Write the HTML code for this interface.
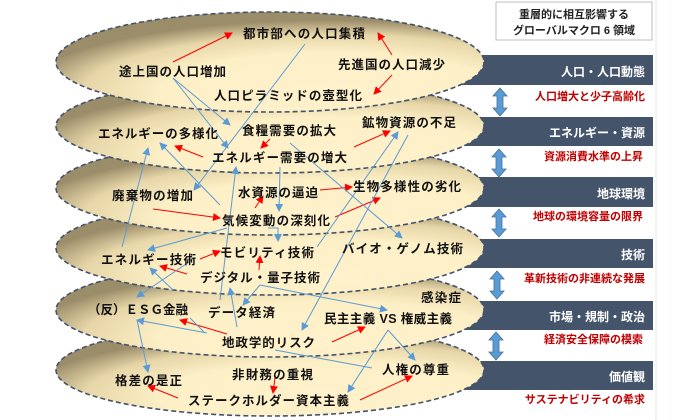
<!DOCTYPE html>
<html><head><meta charset="utf-8"><style>
html,body{margin:0;padding:0;background:#fff;width:700px;height:420px;overflow:hidden}
svg text{font-family:"Liberation Sans","Noto Sans CJK JP",sans-serif;font-weight:bold}
</style></head><body>
<svg width="700" height="420" viewBox="0 0 700 420" xmlns="http://www.w3.org/2000/svg">
<defs>
<radialGradient id="g" cx="0.64" cy="0.8" r="0.72">
<stop offset="0" stop-color="#fff2cc"/><stop offset="0.55" stop-color="#fdefc6"/><stop offset="0.8" stop-color="#e6d6a8"/><stop offset="1" stop-color="#9c8d6a"/>
</radialGradient>
<marker id="r" markerWidth="8" markerHeight="8" refX="7" refY="4" orient="auto" markerUnits="userSpaceOnUse"><path d="M0,0 L8,4 L0,8z" fill="#ff0000"/></marker>
<marker id="b" markerWidth="8" markerHeight="8" refX="7" refY="4" orient="auto" markerUnits="userSpaceOnUse"><path d="M0,0 L8,4 L0,8z" fill="#5b9bd5"/></marker>
</defs>
<line x1="656" y1="0" x2="656" y2="420" stroke="#e2efd9" stroke-width="1"/>
<rect x="496" y="2" width="156" height="38" fill="#fff" stroke="#bfbfbf"/>
<text x="574" y="18" font-size="11" text-anchor="middle" fill="#222">重層的に相互影響する</text>
<text x="574" y="34" font-size="11" text-anchor="middle" fill="#222">グローバルマクロ 6 領域</text>
<g fill="#44546a">
<rect x="460" y="55" width="193" height="30"/><rect x="460" y="117" width="193" height="29"/>
<rect x="460" y="177" width="193" height="30"/><rect x="460" y="239" width="193" height="29"/>
<rect x="460" y="301" width="193" height="29"/><rect x="460" y="361" width="193" height="29"/>
</g>
<g fill="#fff" font-size="12" text-anchor="end">
<text x="645" y="76">人口・人口動態</text><text x="645" y="137">エネルギー・資源</text>
<text x="645" y="198">地球環境</text><text x="645" y="259">技術</text>
<text x="645" y="321">市場・規制・政治</text><text x="645" y="381">価値観</text>
</g>
<g fill="#c00000" font-size="11" text-anchor="end">
<text x="645" y="100">人口増大と少子高齢化</text><text x="643" y="160">資源消費水準の上昇</text>
<text x="643" y="220">地球の環境容量の限界</text><text x="645" y="282">革新技術の非連続な発展</text>
<text x="643" y="343">経済安全保障の模索</text><text x="645" y="403">サステナビリティの希求</text>
</g>
<g fill="#5b9bd5" stroke="#41719c" stroke-width="0.8">
<path d="M500,88 l-7,8 h4 v12 h-4 l7,8 l7,-8 h-4 v-12 h4z"/>
<path d="M499,149 l-7,8 h4 v12 h-4 l7,8 l7,-8 h-4 v-12 h4z"/>
<path d="M499,209 l-7,8 h4 v12 h-4 l7,8 l7,-8 h-4 v-12 h4z"/>
<path d="M497,271 l-7,8 h4 v12 h-4 l7,8 l7,-8 h-4 v-12 h4z"/>
<path d="M496,332 l-7,8 h4 v12 h-4 l7,8 l7,-8 h-4 v-12 h4z"/>
</g>
<g fill="url(#g)" stroke="#44546a" stroke-width="1.6" stroke-dasharray="5,3">
<ellipse cx="270" cy="370" rx="214" ry="46"/>
<ellipse cx="270" cy="310" rx="214" ry="47"/>
<ellipse cx="270" cy="248" rx="214" ry="47"/>
<ellipse cx="270" cy="188" rx="214" ry="47"/>
<ellipse cx="270" cy="126" rx="214" ry="47"/>
<ellipse cx="270" cy="62" rx="214" ry="50"/>
</g>
<g stroke="#ff0000" stroke-width="1" marker-end="url(#r)">
<line x1="173" y1="62" x2="232" y2="33"/><line x1="392" y1="55" x2="378" y2="33"/>
<line x1="392" y1="75" x2="374" y2="94"/><line x1="270" y1="139" x2="261" y2="148"/>
<line x1="203" y1="157" x2="175" y2="146"/><line x1="354" y1="147" x2="390" y2="131"/>
<line x1="320" y1="190" x2="352" y2="187"/><line x1="153" y1="209" x2="220" y2="218"/>
<line x1="255" y1="208" x2="263" y2="196"/><line x1="335" y1="217" x2="380" y2="198"/>
<line x1="200" y1="259" x2="220" y2="251"/><line x1="187" y1="274" x2="160" y2="266"/>
<line x1="259" y1="270" x2="260" y2="256"/><line x1="227" y1="334" x2="180" y2="320"/>
<line x1="332" y1="342" x2="365" y2="327"/><line x1="275" y1="378" x2="273" y2="393"/>
<line x1="178" y1="398" x2="148" y2="386"/><line x1="360" y1="400" x2="412" y2="376"/>
</g>
<g stroke="#5b9bd5" stroke-width="1" fill="none">
<line x1="305" y1="44" x2="194" y2="190" marker-end="url(#b)"/>
<line x1="173" y1="78" x2="230" y2="125" marker-end="url(#b)"/>
<line x1="173" y1="78" x2="228" y2="148" marker-end="url(#b)"/>
<line x1="220" y1="205" x2="160" y2="143" marker-end="url(#b)"/>
<line x1="122" y1="247" x2="148" y2="148" marker-end="url(#b)"/>
<line x1="220" y1="300" x2="236" y2="167" marker-end="url(#b)"/>
<line x1="280" y1="167" x2="279" y2="211" marker-end="url(#b)"/>
<line x1="290" y1="143" x2="402" y2="238" marker-end="url(#b)"/>
<line x1="317" y1="247" x2="398" y2="132" marker-end="url(#b)"/>
<line x1="408" y1="135" x2="302" y2="330" marker-end="url(#b)"/>
<line x1="227" y1="228" x2="148" y2="250" marker-end="url(#b)"/>
<polyline points="268,228 278,228 278,241" marker-end="url(#b)"/>
<line x1="195" y1="258" x2="137" y2="297" marker-end="url(#b)"/>
<line x1="173" y1="290" x2="150" y2="268" marker-end="url(#b)"/>
<line x1="260" y1="285" x2="243" y2="305" marker-end="url(#b)"/>
<line x1="260" y1="285" x2="387" y2="310" marker-end="url(#b)"/>
<line x1="237" y1="327" x2="230" y2="288" marker-end="url(#b)"/>
<line x1="207" y1="333" x2="137" y2="320" marker-end="url(#b)"/>
<line x1="190" y1="318" x2="205" y2="333"/>
<line x1="137" y1="320" x2="148" y2="372" marker-end="url(#b)"/>
<line x1="275" y1="350" x2="372" y2="368"/>
<line x1="388" y1="330" x2="415" y2="360" marker-end="url(#b)"/>
<line x1="388" y1="330" x2="348" y2="392" marker-end="url(#b)"/>
</g>
<g fill="#111" font-size="12.5">
<text x="243" y="38" textLength="122">都市部への人口集積</text>
<text x="338" y="69" textLength="107">先進国の人口減少</text>
<text x="119" y="76" textLength="107">途上国の人口増加</text>
<text x="214" y="100" textLength="148">人口ピラミッドの壺型化</text>
<text x="98" y="138" textLength="120">エネルギーの多様化</text>
<text x="242" y="135" textLength="94">食糧需要の拡大</text>
<text x="362" y="127" textLength="94">鉱物資源の不足</text>
<text x="212" y="162" textLength="135">エネルギー需要の増大</text>
<text x="112" y="200" textLength="81">廃棄物の増加</text>
<text x="238" y="197" textLength="80">水資源の逼迫</text>
<text x="353" y="191" textLength="108">生物多様性の劣化</text>
<text x="222" y="225" textLength="108">気候変動の深刻化</text>
<text x="101" y="264" textLength="95">エネルギー技術</text>
<text x="220" y="257" textLength="94">モビリティ技術</text>
<text x="342" y="253" textLength="121">バイオ・ゲノム技術</text>
<text x="200" y="282" textLength="120">デジタル・量子技術</text>
<text x="421" y="302" textLength="40">感染症</text>
<text x="88" y="314" textLength="100">（反）ＥＳＧ金融</text>
<text x="208" y="317" textLength="67">データ経済</text>
<text x="324" y="323" textLength="128">民主主義 VS 権威主義</text>
<text x="222" y="347" textLength="93">地政学的リスク</text>
<text x="382" y="374" textLength="67">人権の尊重</text>
<text x="232" y="379" textLength="81">非財務の重視</text>
<text x="115" y="385" textLength="67">格差の是正</text>
<text x="188" y="405" textLength="161">ステークホルダー資本主義</text>
</g>
</svg>
</body></html>
